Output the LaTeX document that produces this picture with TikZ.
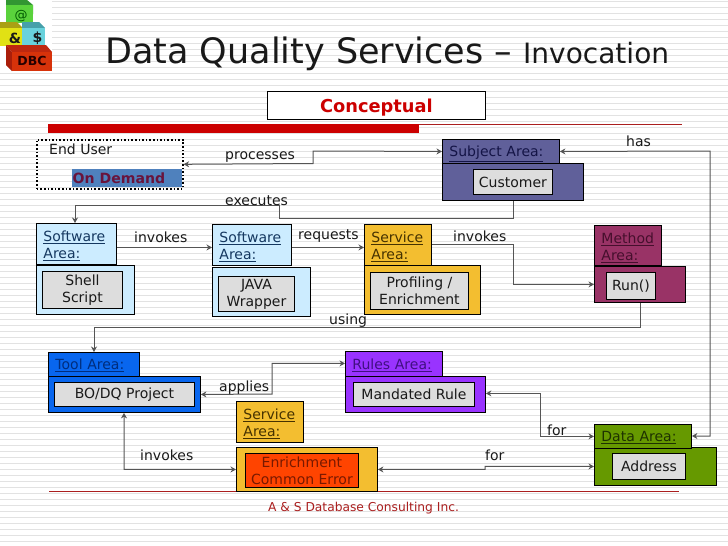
\documentclass[tikz,border=0pt]{standalone}
\usepackage{fontspec}
\setmainfont{DejaVu Sans}
\usepackage{tikz}
\usetikzlibrary{arrows.meta, calc}
\definecolor{subjcol}{RGB}{96, 96, 154}
\definecolor{softcol}{RGB}{204, 236, 255}
\definecolor{servcol}{RGB}{243, 190, 48}
\definecolor{methcol}{RGB}{153, 51, 102}
\definecolor{toolcol}{RGB}{8, 102, 238}
\definecolor{rulecol}{RGB}{153, 51, 255}
\definecolor{datacol}{RGB}{102, 153, 0}
\definecolor{errcol}{RGB}{255, 68, 0}
\definecolor{innercol}{RGB}{221, 221, 221}
\definecolor{barred}{RGB}{204, 0, 0}
\definecolor{thinred}{RGB}{170, 30, 30}
\definecolor{linecol}{RGB}{85, 85, 85}
\definecolor{stripe}{RGB}{226, 226, 226}
\definecolor{subjtext}{RGB}{20, 20, 70}
\definecolor{softtext}{RGB}{20, 55, 95}
\definecolor{servtext}{RGB}{70, 50, 0}
\definecolor{methtext}{RGB}{70, 15, 45}
\definecolor{tooltext}{RGB}{0, 45, 125}
\definecolor{ruletext}{RGB}{65, 15, 130}
\definecolor{datatext}{RGB}{30, 50, 0}
\definecolor{errtext}{RGB}{120, 25, 0}
\definecolor{demandcol}{RGB}{79, 129, 189}
\definecolor{demandtext}{RGB}{105, 20, 60}
\definecolor{cubegreen}{RGB}{90, 210, 60}
\definecolor{cubegreentop}{RGB}{50, 150, 50}
\definecolor{cubeyellow}{RGB}{225, 225, 20}
\definecolor{cubeyellowtop}{RGB}{170, 160, 20}
\definecolor{cubecyan}{RGB}{105, 210, 220}
\definecolor{cubecyantop}{RGB}{70, 160, 170}
\definecolor{cubered}{RGB}{215, 50, 10}
\definecolor{cuberedtop}{RGB}{190, 40, 15}
\definecolor{cuberedside}{RGB}{170, 30, 10}

\begin{document}
\begin{tikzpicture}[
  x=1pt, y=-1pt,
  every node/.style={font=\fontsize{14}{17}\selectfont, text=black!90},
  areahead/.style={draw=black, line width=0.9pt, anchor=north west, align=left, inner xsep=7pt, inner ysep=0pt},
  oneline/.style={text depth=0pt},
  twoline/.style={text depth=15pt},
  areabody/.style={draw=black, line width=0.9pt, anchor=north west, inner sep=0pt},
  innerbox/.style={draw=black, line width=0.9pt, anchor=north west, inner sep=0pt, align=center, fill=innercol},
  conn/.style={draw=linecol, line width=1pt, {Stealth[length=5.5pt,width=6pt]}-{Stealth[length=5.5pt,width=6pt]}},
  connto/.style={draw=linecol, line width=1pt, -{Stealth[length=5.5pt,width=6pt]}},
  lbl/.style={inner sep=0pt}
]
  \useasboundingbox (0,0) rectangle (728,546);
  \fill[white] (0,0) rectangle (728,546);
  \foreach \k in {0,...,90} {
    \draw[draw=stripe, line width=1.5pt] (0,1.7+6*\k) -- (728,1.7+6*\k);
  }

  % rules across the slide
  \fill[barred] (48,124) rectangle (419,133);
  \fill[thinred] (419,124) rectangle (682,125);
  \fill[thinred] (49,491) rectangle (679,492);

  % logo
  \fill[white] (0,0) rectangle (52,72);
  \fill[cubegreentop] (6,0) -- (27,0) -- (33,5) -- (33,14) -- (6,14) -- cycle;
  \fill[cubegreen] (6,5) -- (33,5) -- (33,23) -- (6,23) -- cycle;
  \fill[cubeyellowtop] (0,22) -- (17,22) -- (23,28) -- (0,28) -- cycle;
  \fill[cubeyellow] (0,28) rectangle (23,46);
  \fill[cubecyantop] (22,22) -- (39,22) -- (45,28) -- (22,28) -- cycle;
  \fill[cubecyan] (22,28) rectangle (45,46);
  \fill[cuberedtop] (6,45) -- (46,45) -- (52,52) -- (12,52) -- cycle;
  \fill[cuberedside] (6,45) -- (12,52) -- (12,71) -- (6,65) -- cycle;
  \fill[cubered] (12,52) rectangle (52,71);
  \node[lbl, font=\fontsize{13}{14}\selectfont, text=black!65!green] (logoat) at (21,16) {@};
  \node[lbl, font=\bfseries\fontsize{14}{14}\selectfont] (logoamp) at (15,38) {\&};
  \node[lbl, font=\bfseries\fontsize{14}{14}\selectfont] (logodollar) at (37.5,38) {\$};
  \node[lbl, font=\bfseries\fontsize{12.5}{14}\selectfont, text=black!85!red] (logodbc) at (32,61) {DBC};

  % title
  \node[lbl, anchor=base west, font=\fontsize{35}{40}\selectfont] (title) at (105,63) {Data Quality Services –};
  \node[lbl, anchor=base west, font=\fontsize{28}{30}\selectfont] (subtitle) at (523,63) {Invocation};
  \node[draw=black, fill=white, line width=0.9pt, anchor=north west, minimum width=218pt, minimum height=28pt, inner sep=0pt, text depth=0pt,
        text=barred, font=\bfseries\fontsize{17.8}{20}\selectfont] (concept) at (267,91) {Conceptual};

  % end user
  \node[draw=black, dotted, line width=1.6pt, anchor=north west, minimum width=146pt, minimum height=49pt, inner sep=0pt] (enduser) at (36,139) {};
  \node[lbl, anchor=west] (enduserlbl) at (49,149) {End User};
  \node[anchor=north west, fill=demandcol, minimum width=110pt, minimum height=18pt, inner sep=0pt] (ondemand) at (72,169) {};
  \node[lbl, anchor=west, text=demandtext, font=\bfseries\fontsize{14.1}{16}\selectfont] (ondemandlbl) at (72.5,178) {On Demand};

  % subject
  \node[areabody, fill=subjcol, minimum width=141pt, minimum height=37pt] (subjbody) at (442,163) {};
  \node[areahead, oneline, fill=subjcol, text=subjtext, text width=103pt, minimum height=24pt] (subjhead) at (442,139) {\underline{Subject Area:}};
  \node[innerbox, minimum width=79pt, minimum height=25pt] (subjinner) at (473,169) {Customer};

  % software
  \node[areabody, fill=softcol, minimum width=98pt, minimum height=49pt] (shellbody) at (36,265) {};
  \node[areahead, twoline, fill=softcol, text=softtext, text width=66pt, minimum height=41pt] (shellhead) at (36,223) {\underline{Software}\\\underline{Area:}};
  \node[innerbox, minimum width=80pt, minimum height=37pt] (shellinner) at (42,271) {Shell\\Script};
  \node[areabody, fill=softcol, minimum width=98pt, minimum height=49pt] (javabody) at (212,267) {};
  \node[areahead, twoline, fill=softcol, text=softtext, text width=65pt, minimum height=41pt] (javahead) at (212,224) {\underline{Software}\\\underline{Area:}};
  \node[innerbox, minimum width=76pt, minimum height=35pt] (javainner) at (218,276) {JAVA\\Wrapper};

  % service
  \node[areabody, fill=servcol, minimum width=116pt, minimum height=49pt] (profbody) at (364,265) {};
  \node[areahead, twoline, fill=servcol, text=servtext, text width=53pt, minimum height=41pt] (profhead) at (364,224) {\underline{Service}\\\underline{Area:}};
  \node[innerbox, minimum width=98pt, minimum height=37pt] (profinner) at (370,272) {Profiling /\\Enrichment};

  % method
  \node[areabody, fill=methcol, minimum width=91pt, minimum height=36pt] (methbody) at (594,266) {};
  \node[areahead, twoline, fill=methcol, text=methtext, text width=53pt, minimum height=40pt] (methhead) at (594,225) {\underline{Method}\\\underline{Area:}};
  \node[innerbox, minimum width=49pt, minimum height=27pt] (methinner) at (606,272) {Run()};

  % tool
  \node[areabody, fill=toolcol, minimum width=152pt, minimum height=36pt] (toolbody) at (48,376) {};
  \node[areahead, oneline, fill=toolcol, text=tooltext, text width=77pt, minimum height=24pt] (toolhead) at (48,352) {\underline{Tool Area:}};
  \node[innerbox, minimum width=140pt, minimum height=24pt] (toolinner) at (54,382) {BO/DQ Project};

  % rules
  \node[areabody, fill=rulecol, minimum width=140pt, minimum height=36pt] (rulebody) at (345,376) {};
  \node[areahead, oneline, fill=rulecol, text=ruletext, text width=83pt, minimum height=25pt] (rulehead) at (345,351) {\underline{Rules Area:}};
  \node[innerbox, minimum width=121pt, minimum height=24pt] (ruleinner) at (353,382) {Mandated Rule};

  % error service
  \node[areahead, twoline, fill=servcol, text=servtext, text width=53pt, minimum height=41pt] (errhead) at (236,401) {\underline{Service}\\\underline{Area:}};
  \node[areabody, fill=servcol, minimum width=141pt, minimum height=44pt] (errbody) at (236,447) {};
  \node[innerbox, fill=errcol, text=errtext, minimum width=113pt, minimum height=34pt] (errinner) at (245,453) {Enrichment\\Common Error};

  % data
  \node[areabody, fill=datacol, minimum width=122pt, minimum height=38pt] (databody) at (594,447) {};
  \node[areahead, oneline, fill=datacol, text=datatext, text width=83pt, minimum height=24pt] (datahead) at (594,424) {\underline{Data Area:}};
  \node[innerbox, minimum width=73pt, minimum height=26pt] (datainner) at (612,453) {Address};

  % bends
  \coordinate (procA) at (313,151);
  \coordinate (procB) at (313,163.5);
  \coordinate (execA) at (513,218.4);
  \coordinate (execB) at (279,218.4);
  \coordinate (execC) at (279,205.4);
  \coordinate (execD) at (75,205.4);
  \coordinate (invA) at (513,244.4);
  \coordinate (invB) at (513,284.4);
  \coordinate (useA) at (640,327.4);
  \coordinate (useB) at (94,327.4);
  \coordinate (hasA) at (710,151);
  \coordinate (hasB) at (710,436);
  \coordinate (appA) at (272,394);
  \coordinate (appB) at (272,363.4);
  \coordinate (forA) at (540.4,393.4);
  \coordinate (forB) at (540.4,436.4);
  \coordinate (forC) at (485,469.4);
  \coordinate (forD) at (485,466.4);
  \coordinate (toolA) at (124,469.4);

  % connectors
  \draw[conn] (subjhead.west) -- (procA) -- (procB) -- (enduser.east);
  \draw[connto] (subjbody.south -| execA) -- (execA) -- (execB) -- (execC) -- (execD) -- (shellhead.north -| execD);
  \draw[connto] ([yshift=-3.5pt]shellhead.east) -- ([yshift=-3.5pt]shellhead.east -| javahead.west);
  \draw[connto] ([yshift=-2.5pt]javahead.east) -- ([yshift=-2.5pt]javahead.east -| profhead.west);
  \draw[connto] (profhead.east |- invA) -- (invA) -- (invB) -- (methbody.west |- invB);
  \draw[connto] (methbody.south -| useA) -- (useA) -- (useB) -- (toolhead.north -| useB);
  \draw[conn] (subjhead.east) -- (hasA) -- (hasB) -- (datahead.east |- hasB);
  \draw[conn] (toolbody.east) -- (appA) -- (appB) -- (rulehead.west |- appB);
  \draw[conn] (rulebody.east |- forA) -- (forA) -- (forB) -- (datahead.west |- forB);
  \draw[conn] (errbody.east) -- (forC) -- (forD) -- (databody.west);
  \draw[conn] (toolbody.south -| toolA) -- (toolA) -- (errbody.west);

  % labels
  \node[lbl, anchor=west] (lprocess) at (225,157) {processes};
  \node[lbl, anchor=west] (lexecute) at (225,201) {executes};
  \node[lbl, anchor=west] (linvokeA) at (134,237) {invokes};
  \node[lbl, anchor=west] (lrequest) at (298,236) {requests};
  \node[lbl, anchor=west] (linvokeB) at (453,236) {invokes};
  \node[lbl, anchor=west] (lhas) at (626,141) {has};
  \node[lbl, anchor=west] (lusing) at (329,321) {using};
  \node[lbl, anchor=west] (lapply) at (219,388) {applies};
  \node[lbl, anchor=west] (linvokeC) at (140,455) {invokes};
  \node[lbl, anchor=west] (lforA) at (547,430) {for};
  \node[lbl, anchor=west] (lforB) at (485,455) {for};

  % footer
  \node[lbl, text=thinred, font=\fontsize{12.25}{14}\selectfont] (footer) at (363.5,508) {A \& S Database Consulting Inc.};
\end{tikzpicture}
\end{document}
